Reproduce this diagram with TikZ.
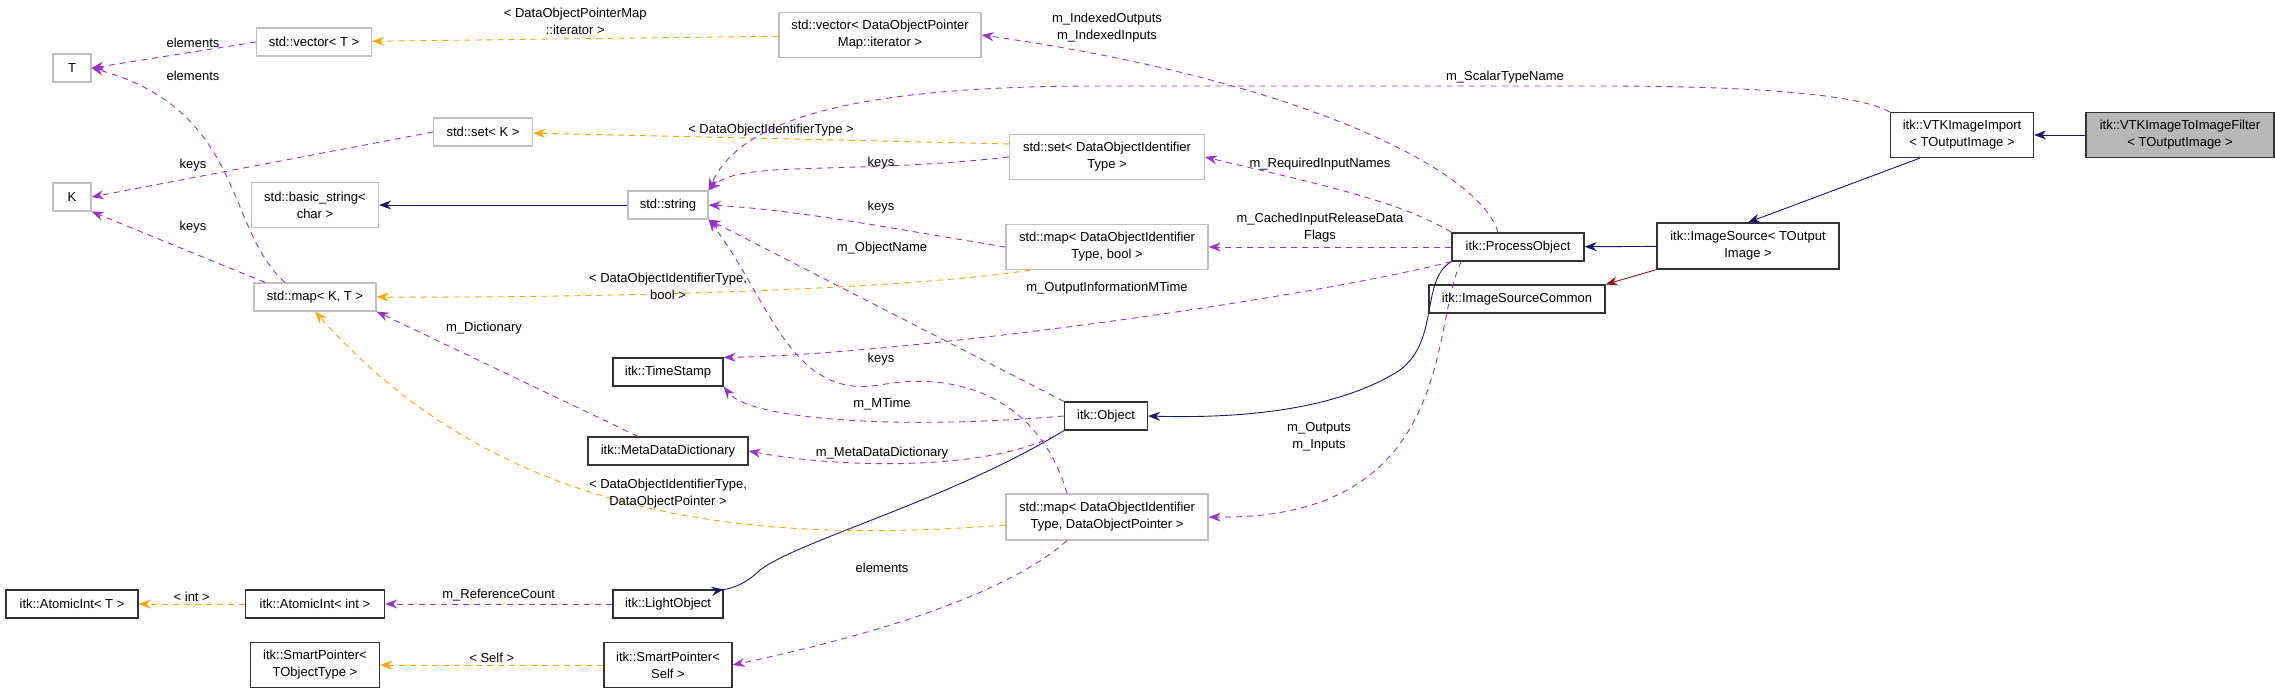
\documentclass[tikz,border=0pt]{standalone}
\usepackage{fontspec}
\setmainfont{Liberation Sans}
\usetikzlibrary{arrows.meta,positioning}
\definecolor{usecol}{HTML}{9A32CD}
\definecolor{tplcol}{HTML}{FFA500}
\definecolor{inhcol}{HTML}{191970}
\definecolor{prvcol}{HTML}{8B1A1A}
\newcommand{\tlt}{\textless}
\newcommand{\tgt}{\textgreater}

\begin{document}
\begin{tikzpicture}[
    x=1pt, y=-1pt,
    font=\fontsize{13}{17}\selectfont,
    cls/.style={rectangle, draw=black!80, line width=1.2pt, inner sep=0pt, minimum height=28pt, align=center},
    ext/.style={cls, draw=black!25},
    top/.style={cls, fill=black!28},
    lbl/.style={inner sep=0pt, align=center},
    use/.style={draw=usecol, dashed, dash pattern=on 6pt off 5pt, line width=0.9pt, -{Stealth[length=12pt,width=9pt]}},
    tpl/.style={use, draw=tplcol},
    inh/.style={draw=inhcol, line width=0.9pt, -{Stealth[length=12pt,width=9pt]}},
    prv/.style={inh, draw=prvcol},
]
\useasboundingbox (0,0) rectangle (2275,693);

% std classes
\node[ext, minimum width=38pt] (T) at (72,68) {T};
\node[ext, minimum width=115pt] (vecT) at (314,42) {std::vector\tlt{} T \tgt};
\node[ext, minimum width=99pt] (setK) at (483,132) {std::set\tlt{} K \tgt};
\node[ext, minimum width=38pt] (K) at (72,197) {K};
\node[ext, minimum width=127pt, minimum height=45pt] (bstr) at (315,205) {std::basic\_string\tlt\\char \tgt};
\node[ext, minimum width=80pt] (str) at (668,205) {std::string};
\node[ext, minimum width=122pt] (mapKT) at (315,297) {std::map\tlt{} K, T \tgt};
\node[ext, minimum width=202pt, minimum height=45pt] (vecIt) at (880,35) {std::vector\tlt{} DataObjectPointer\\Map::iterator \tgt};
\node[ext, minimum width=195pt, minimum height=45pt] (setD) at (1107,157) {std::set\tlt{} DataObjectIdentifier\\Type \tgt};
\node[ext, minimum width=202pt, minimum height=45pt] (mapDb) at (1107,247) {std::map\tlt{} DataObjectIdentifier\\Type, bool \tgt};
\node[ext, minimum width=202pt, minimum height=46pt] (mapDP) at (1107,517) {std::map\tlt{} DataObjectIdentifier\\Type, DataObjectPointer \tgt};

% itk classes
\node[cls, minimum width=110pt] (ts) at (668,372) {itk::TimeStamp};
\node[cls, minimum width=160pt] (mdd) at (668,451) {itk::MetaDataDictionary};
\node[cls, minimum width=132pt] (aiT) at (72,604) {itk::AtomicInt\tlt{} T \tgt};
\node[cls, minimum width=139pt] (aiInt) at (315,604) {itk::AtomicInt\tlt{} int \tgt};
\node[cls, minimum width=110pt] (lobj) at (668,604) {itk::LightObject};
\node[cls, minimum width=129pt, minimum height=45pt] (spT) at (315,665) {itk::SmartPointer\tlt\\TObjectType \tgt};
\node[cls, minimum width=128pt, minimum height=45pt] (spS) at (668,665) {itk::SmartPointer\tlt\\Self \tgt};
\node[cls, minimum width=83pt] (obj) at (1106,416) {itk::Object};
\node[cls, minimum width=132pt] (po) at (1518,247) {itk::ProcessObject};
\node[cls, minimum width=176pt] (isc) at (1517,299) {itk::ImageSourceCommon};
\node[cls, minimum width=182pt, minimum height=46pt] (isrc) at (1748,246) {itk::ImageSource\tlt{} TOutput\\Image \tgt};
\node[cls, minimum width=143pt, minimum height=45pt] (vtki) at (1962,135) {itk::VTKImageImport\\\tlt{} TOutputImage \tgt};
\node[top, minimum width=188pt, minimum height=45pt] (filt) at (2180,135) {itk::VTKImageToImageFilter\\\tlt{} TOutputImage \tgt};

% inheritance
\draw[inh] (str) -- (bstr);
\draw[inh] (filt) -- (vtki);
\draw[inh] (vtki.south west) ++(30,0) -- (isrc.north);
\draw[inh] (isrc) -- (po);
\draw[prv] (isrc.south west) -- (isc.north east);
\draw[inh] (po.south west) .. controls (1420,280) and (1440,340) .. (1400,370) .. controls (1330,415) and (1220,418) .. (obj.east);
\draw[inh] (obj.south west) .. controls (950,500) and (800,540) .. (760,570) .. controls (740,590) and (720,590) .. (lobj.north east);

% template instances
\draw[tpl] (vecIt) -- node[lbl, above=4pt] {\tlt{} DataObjectPointerMap\\::iterator \tgt} (vecT);
\draw[tpl] (setD.north west) ++(0,10) -- node[lbl, above=2pt] {\tlt{} DataObjectIdentifierType \tgt} (setK);
\draw[tpl] (mapDb.south west) ++(25,0) .. controls (900,290) and (600,298) .. (mapKT.east);
\node[lbl] (lmapDb) at (668,286) {\tlt{} DataObjectIdentifierType,\\bool \tgt};
\draw[tpl] (mapDP.west) ++(0,8) .. controls (750,545) and (500,520) .. (mapKT.south);
\node[lbl] (lmapDP) at (668,494) {\tlt{} DataObjectIdentifierType,\\DataObjectPointer \tgt};
\draw[tpl] (aiInt) -- node[lbl, above=2pt] {\tlt{} int \tgt} (aiT);
\draw[tpl] (spS) -- node[lbl, above=2pt] {\tlt{} Self \tgt} (spT);

% members
\draw[use] (vecT.west) -- (T.east);
\node[lbl] (lel1) at (193,43) {elements};
\draw[use] (mapKT.north) ++(-30,0) .. controls (225,230) and (245,110) .. (T.east);
\node[lbl] (lel2) at (193,76) {elements};
\draw[use] (setK.west) -- (K.east);
\node[lbl] (lk1) at (193,165) {keys};
\draw[use] (mapKT.north) ++(-50,0) -- (K.south east);
\node[lbl] (lk2) at (193,227) {keys};
\draw[use] (setD.west) .. controls (850,175) and (740,160) .. (str.north east);
\node[lbl] (lk3) at (881,163) {keys};
\draw[use] (mapDb.west) .. controls (900,230) and (800,210) .. (str.east);
\node[lbl] (lk4) at (881,207) {keys};
\draw[use] (mapDP.north) ++(-40,0) .. controls (1040,400) and (960,370) .. (880,385) .. controls (790,400) and (770,300) .. (str.south east);
\node[lbl] (lk5) at (881,359) {keys};
\draw[use] (obj.north west) -- (str.south east);
\node[lbl] (lon) at (882,248) {m\_ObjectName};
\draw[use] (vtki.north west) .. controls (1860,95) and (1760,86) .. (1600,86) -- (1100,86) .. controls (850,86) and (740,120) .. (str.north east);
\node[lbl] (lst) at (1505,77) {m\_ScalarTypeName};
\draw[use] (po.north) ++(-20,0) .. controls (1480,170) and (1300,80) .. (vecIt.east);
\node[lbl] (lio) at (1107,28) {m\_IndexedOutputs\\m\_IndexedInputs};
\draw[use] (po.north west) .. controls (1400,200) and (1300,180) .. (setD.east);
\node[lbl] (lrin) at (1320,164) {m\_RequiredInputNames};
\draw[use] (po.west) -- (mapDb.east);
\node[lbl] (lcir) at (1320,228) {m\_CachedInputReleaseData\\Flags};
\draw[use] (po.south west) .. controls (1300,300) and (900,355) .. (ts.north east);
\node[lbl] (lomt) at (1107,288) {m\_OutputInformationMTime};
\draw[use] (po.south west) ++(10,0) .. controls (1430,320) and (1460,520) .. (mapDP.east);
\node[lbl] (loi) at (1319,437) {m\_Outputs\\m\_Inputs};
\draw[use] (obj.west) .. controls (900,430) and (750,420) .. (ts.south east);
\node[lbl] (lmt) at (882,404) {m\_MTime};
\draw[use] (obj.south west) .. controls (1000,470) and (850,470) .. (mdd.east);
\node[lbl] (lmdd) at (882,453) {m\_MetaDataDictionary};
\draw[use] (mdd.north) ++(-30,0) -- (mapKT.south east);
\node[lbl] (ldic) at (484,328) {m\_Dictionary};
\draw[use] (lobj) -- node[lbl, above=2pt] {m\_ReferenceCount} (aiInt);
\draw[use] (mapDP.south) ++(-40,0) .. controls (1000,600) and (850,640) .. (spS.east);
\node[lbl] (lel3) at (882,568) {elements};

\end{tikzpicture}
\end{document}
